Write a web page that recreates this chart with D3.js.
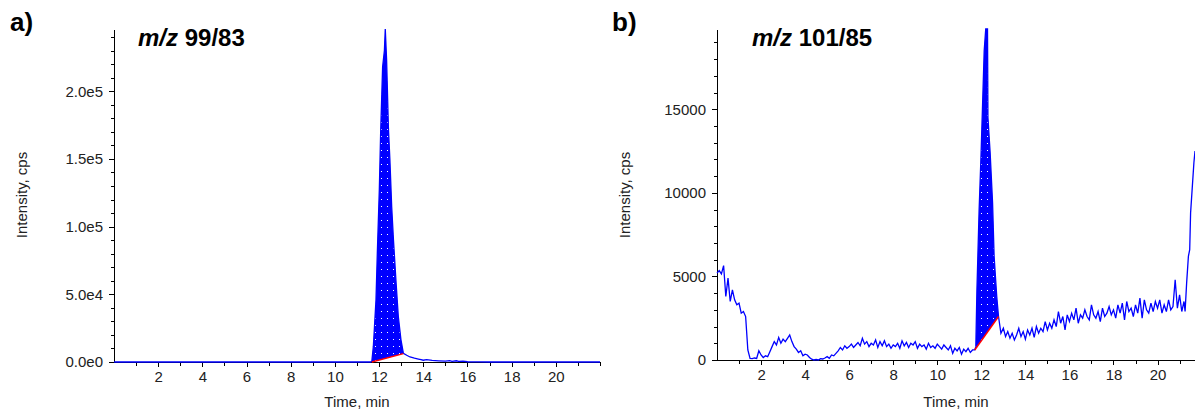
<!DOCTYPE html>
<html>
<head>
  <title>MRM chromatograms</title>
  <script src="https://d3js.org/d3.v7.min.js"></script>
  <style>
    body { margin: 0; background: #fff; font-family: "Liberation Sans", Arial, sans-serif; }
    .axis path, .axis line { fill: none; stroke: #000; shape-rendering: crispEdges; }
    .axis text { font-size: 15px; fill: #222; font-family: "Liberation Sans", Arial, sans-serif; }
    .axis-label { font-size: 15px; fill: #222; text-anchor: middle; }
    .panel-tag { font-size: 26px; font-weight: bold; fill: #000; }
    .panel-title { font-size: 24px; font-weight: bold; fill: #000; }
    .trace { fill: none; stroke: #0000ff; stroke-width: 1.3; }
    .base { stroke: #ff0000; stroke-width: 1.5; }
  </style>
</head>
<body>
  <div id="chart"></div>
  <script>
    // panel a: m/z 99/83  [time (min), intensity (cps)]
    const traceA = [
      [0, 0], [11.6, 0], [11.67, 400], [11.74, 11500], [11.86, 45900], [11.92, 80400],
      [12.01, 127000], [12.07, 169000], [12.16, 218000], [12.24, 230000], [12.28, 246000],
      [12.34, 223000], [12.42, 173700], [12.49, 149000], [12.57, 114700], [12.65, 90200],
      [12.77, 58300], [12.87, 33600], [12.99, 16400], [13.1, 6400], [13.25, 5000],
      [13.4, 3700], [13.6, 2800], [13.78, 2200], [13.9, 1800], [14.0, 1300], [14.15, 1700],
      [14.4, 1200], [14.7, 900], [15.0, 700], [15.2, 1000], [15.3, 500], [15.5, 900],
      [15.6, 400], [15.8, 600], [16.0, 200], [16.5, 100], [17, 0], [22, 0]
    ];
    const peakA = [[11.67, 0], [13.1, 6200]];   // integration baseline
    const yTicksA = [0, 50000, 100000, 150000, 200000];
    const yLabelsA = ["0.0e0", "5.0e4", "1.0e5", "1.5e5", "2.0e5"];

    // panel b: m/z 101/85
    const traceB = [
      [0.0, 5200], [0.1, 5350], [0.2, 5150], [0.3, 5650], [0.4, 3800], [0.5, 4900],
      [0.6, 3500], [0.7, 4200], [0.8, 3600], [0.9, 3300], [1.0, 3400], [1.1, 2800],
      [1.2, 2900], [1.3, 2600], [1.4, 600], [1.5, 100], [1.6, 80], [1.7, 120], [1.8, 90],
      [1.9, 550], [2.0, 300], [2.1, 150], [2.2, 250], [2.3, 200], [2.4, 500], [2.5, 800],
      [2.6, 1100], [2.7, 900], [2.8, 1350], [2.9, 1000], [3.0, 1250], [3.1, 1100],
      [3.2, 1300], [3.3, 1500], [3.4, 1100], [3.5, 800], [3.6, 650], [3.7, 450],
      [3.8, 550], [3.9, 250], [4.0, 350], [4.1, 300], [4.2, 150], [4.3, 50], [4.4, 0],
      [4.5, 30], [4.6, 0], [4.7, 80], [4.8, 60], [4.9, 120], [5.0, 200], [5.1, 100],
      [5.2, 300], [5.3, 250], [5.4, 400], [5.5, 550], [5.6, 750], [5.7, 600], [5.8, 850],
      [5.9, 700], [6.0, 800], [6.1, 950], [6.2, 750], [6.3, 900], [6.4, 1050], [6.5, 850],
      [6.6, 1300], [6.7, 950], [6.8, 1100], [6.9, 800], [7.0, 1000], [7.1, 900],
      [7.2, 1200], [7.3, 750], [7.4, 1100], [7.5, 850], [7.6, 1150], [7.7, 800],
      [7.8, 950], [7.9, 700], [8.0, 900], [8.1, 800], [8.2, 1000], [8.3, 700],
      [8.4, 1150], [8.5, 850], [8.6, 1050], [8.7, 750], [8.8, 1000], [8.9, 900],
      [9.0, 1100], [9.1, 700], [9.2, 950], [9.3, 800], [9.4, 900], [9.5, 650],
      [9.6, 1000], [9.7, 750], [9.8, 850], [9.9, 700], [10.0, 950], [10.1, 800],
      [10.2, 650], [10.3, 900], [10.4, 750], [10.5, 600], [10.6, 850], [10.7, 400],
      [10.8, 700], [10.9, 550], [11.0, 750], [11.1, 350], [11.2, 650], [11.3, 500],
      [11.4, 700], [11.5, 450], [11.6, 600], [11.7, 600],
      [11.75, 800], [11.8, 4200], [11.9, 9000], [11.98, 12000], [12.05, 15000],
      [12.13, 18500], [12.2, 19850], [12.28, 19850], [12.3, 14500], [12.4, 12400],
      [12.51, 9400], [12.58, 6200], [12.7, 3800], [12.78, 2600], [12.89, 1600],
      [13.0, 1900], [13.1, 1400], [13.2, 1700], [13.3, 1300], [13.4, 1600], [13.5, 1200],
      [13.6, 1500], [13.7, 1900], [13.8, 1400], [13.9, 1700], [14.0, 1250], [14.1, 1800],
      [14.2, 1500], [14.3, 1900], [14.4, 1350], [14.5, 2000], [14.6, 1600], [14.7, 1900],
      [14.8, 1700], [14.9, 2300], [15.0, 1800], [15.1, 2200], [15.2, 1900], [15.3, 2400],
      [15.4, 2000], [15.5, 2900], [15.6, 2200], [15.7, 2600], [15.8, 1800], [15.9, 2700],
      [16.0, 2300], [16.1, 2800], [16.2, 2400], [16.3, 3100], [16.4, 2200], [16.5, 2700],
      [16.6, 2500], [16.7, 3000], [16.8, 2600], [16.9, 2400], [17.0, 3300], [17.1, 2700],
      [17.2, 2500], [17.3, 2900], [17.4, 2300], [17.5, 3100], [17.6, 2600], [17.7, 2800],
      [17.8, 3200], [17.9, 2700], [18.0, 3000], [18.1, 2500], [18.2, 3300], [18.3, 2800],
      [18.4, 3400], [18.5, 2400], [18.6, 3500], [18.7, 2900], [18.8, 3100], [18.9, 2600],
      [19.0, 3300], [19.1, 2800], [19.2, 3700], [19.3, 2500], [19.4, 3600], [19.5, 3000],
      [19.6, 2800], [19.7, 3400], [19.8, 2900], [19.9, 3500], [20.0, 3100], [20.1, 3600],
      [20.2, 2800], [20.3, 3300], [20.4, 2900], [20.5, 3600], [20.6, 3000], [20.7, 3200],
      [20.8, 4800], [20.9, 3100], [21.0, 3900], [21.1, 2900], [21.2, 3500], [21.25, 2900],
      [21.32, 4600], [21.4, 6200], [21.46, 6600], [21.5, 8800], [21.58, 10400],
      [21.65, 11800], [21.7, 12500]
    ];
    const peakB = [[11.7, 600], [12.78, 2600]];
    const yTicksB = [0, 5000, 10000, 15000];
    const yLabelsB = ["0", "5000", "10000", "15000"];

    const xTicks = [2, 4, 6, 8, 10, 12, 14, 16, 18, 20];

    const svg = d3.select("#chart").append("svg")
      .attr("width", 1195).attr("height", 412);

    // dotted fill used by the integrated peak
    const pat = svg.append("defs").append("pattern")
      .attr("id", "dots").attr("patternUnits", "userSpaceOnUse")
      .attr("width", 6).attr("height", 7);
    pat.append("rect").attr("width", 6).attr("height", 7).attr("fill", "#0000ff");
    pat.append("rect").attr("x", 3).attr("y", 3).attr("width", 1).attr("height", 1).attr("fill", "#fff");

    function drawPanel(p) {
      const x = d3.scaleLinear().domain(p.xDomain).range(p.xRange);
      const y = d3.scaleLinear().domain(p.yDomain).range(p.yRange).clamp(true);
      const g = svg.append("g");

      // minor ticks
      g.append("g").attr("class", "axis")
        .attr("transform", `translate(0,${p.yRange[0]})`)
        .call(d3.axisBottom(x).tickValues(d3.range(1, Math.floor(p.xDomain[1]) + 1)).tickSize(4).tickSizeOuter(0).tickFormat(""));
      g.append("g").attr("class", "axis")
        .attr("transform", `translate(${p.xRange[0]},0)`)
        .call(d3.axisLeft(y).tickValues(d3.range(p.minor, p.yDomain[1], p.minor)).tickSize(3).tickSizeOuter(0).tickFormat(""));

      // major ticks with labels
      g.append("g").attr("class", "axis")
        .attr("transform", `translate(0,${p.yRange[0]})`)
        .call(d3.axisBottom(x).tickValues(xTicks).tickSize(5).tickSizeOuter(0).tickPadding(4).tickFormat(d3.format("d")));
      g.append("g").attr("class", "axis")
        .attr("transform", `translate(${p.xRange[0]},0)`)
        .call(d3.axisLeft(y).tickValues(p.yTicks).tickSize(5).tickSizeOuter(0).tickPadding(6)
          .tickFormat((d, i) => p.yLabels[i]));

      // integrated peak area
      const [s, e] = p.peak;
      const baseAt = t => s[1] + (e[1] - s[1]) * (t - s[0]) / (e[0] - s[0]);
      const inPeak = p.trace.filter(d => d[0] >= s[0] && d[0] <= e[0]);
      g.append("path").datum(inPeak)
        .attr("fill", "url(#dots)")
        .attr("d", d3.area().x(d => x(d[0])).y0(d => y(baseAt(d[0]))).y1(d => y(d[1])));

      g.append("path").datum(p.trace).attr("class", "trace")
        .attr("d", d3.line().x(d => x(d[0])).y(d => y(d[1])));

      g.append("line").attr("class", "base")
        .attr("x1", x(s[0])).attr("y1", y(s[1]))
        .attr("x2", x(e[0])).attr("y2", y(e[1]));

      // labels
      g.append("text").attr("class", "axis-label")
        .attr("x", (p.xRange[0] + p.xRange[1]) / 2).attr("y", 407).text("Time, min");
      g.append("text").attr("class", "axis-label")
        .attr("transform", `translate(${p.yLabelX},195) rotate(-90)`).text("Intensity, cps");
      g.append("text").attr("class", "panel-tag").attr("x", p.tagX).attr("y", 31).text(p.tag);
      const t = g.append("text").attr("class", "panel-title").attr("x", p.titleX).attr("y", 46);
      t.append("tspan").attr("font-style", "italic").text("m/z");
      t.append("tspan").text(" " + p.title);
    }

    drawPanel({
      trace: traceA, peak: peakA, yTicks: yTicksA, yLabels: yLabelsA, minor: 10000,
      xDomain: [0, 22], xRange: [114, 600], yDomain: [0, 246000], yRange: [362, 29],
      yLabelX: 27, tagX: 10, tag: "a)", titleX: 138, title: "99/83"
    });
    drawPanel({
      trace: traceB, peak: peakB, yTicks: yTicksB, yLabels: yLabelsB, minor: 1000,
      xDomain: [0, 21.7], xRange: [717, 1195], yDomain: [0, 19800], yRange: [360, 29],
      yLabelX: 630, tagX: 612, tag: "b)", titleX: 752, title: "101/85"
    });
  </script>
</body>
</html>
